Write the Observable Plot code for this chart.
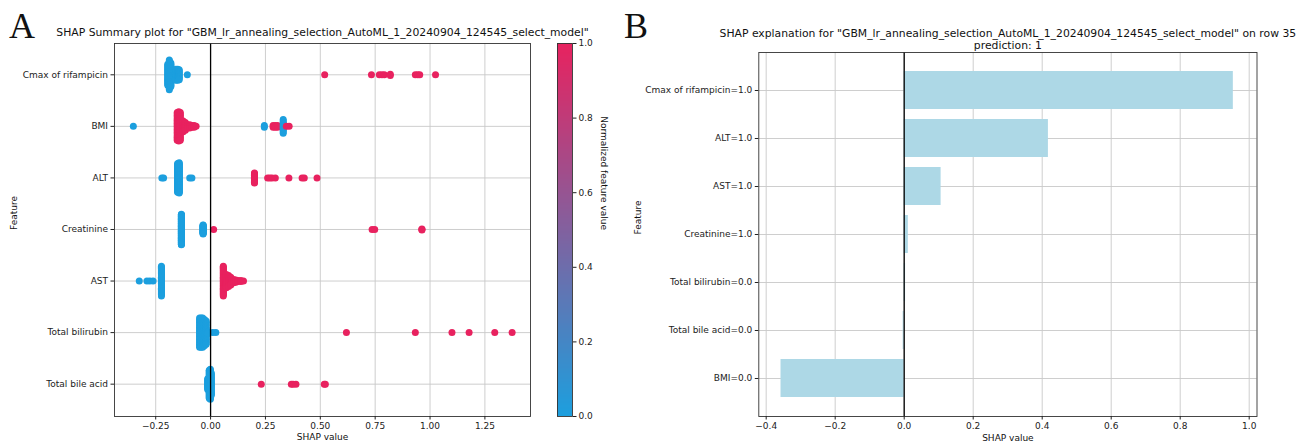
<!DOCTYPE html>
<html><head><meta charset="utf-8">
<script src="https://cdn.jsdelivr.net/npm/d3@7"></script>
<script src="https://cdn.jsdelivr.net/npm/@observablehq/plot@0.6"></script>
<style>
body{margin:0;background:#fff;font-family:"DejaVu Sans",sans-serif;}
#wrap{position:relative;width:1306px;height:446px;overflow:hidden;background:#fff}
.panel{position:absolute;top:0}
svg{overflow:visible}
</style></head><body>
<div id="wrap">
  <div class="panel" id="cbar" style="left:557px"></div>
  <div class="panel" id="left" style="left:0px"></div>
  <div class="panel" id="right" style="left:620px"></div>
  <svg class="panel" width="1306" height="60" style="left:0;pointer-events:none">
    <text x="9" y="38" font-family="Liberation Serif, DejaVu Serif, serif" font-size="36" fill="#111">A</text>
    <text x="624" y="38" font-family="Liberation Serif, DejaVu Serif, serif" font-size="36" fill="#111">B</text>
  </svg>
</div>
<script>
// ---------- Panel A data ----------
const features = ["Cmax of rifampicin","BMI","ALT","Creatinine","AST","Total bilirubin","Total bile acid"];
// groups: [SHAP value, normalized feature value, number of rows]
const cmaxGroups = [[-0.195,0,18],[-0.188,0,25],[-0.181,0,20],[-0.158,0,10],[-0.15,0,10],[-0.143,0,9],[-0.106,0,1],
  [0.52,1,1],[0.733,1,1],[0.769,1,1],[0.781,1,1],[0.792,1,1],[0.819,1,2],[0.933,1,1],[0.944,1,1],[0.953,1,1],[1.025,1,1]];
const bmiGroups = [[-0.352,0,1],[-0.152,1,19],[-0.145,1,20],[-0.138,1,19],[-0.125,1,8],[-0.115,1,6],[-0.105,1,3],[-0.095,1,3],[-0.085,1,2],[-0.075,1,2],[-0.066,1,1],
  [0.245,0,2],[0.285,1,2],[0.295,1,2],[0.305,1,2],[0.331,0,10],[0.345,1,1],[0.358,1,1]];
const altGroups = [[-0.222,0,1],[-0.214,0,1],[-0.15,0,38],[-0.143,0,40],[-0.095,0,1],[-0.085,0,1],
  [0.2,1,14],[0.26,1,1],[0.27,1,1],[0.28,1,1],[0.295,1,1],[0.357,1,1],[0.417,1,1],[0.427,1,1],[0.485,1,1]];
const creatinineGroups = [[-0.133,0,75],[-0.034,0,23],[0.014,1,1],[0.736,1,1],[0.748,1,1],[0.963,1,3]];
const astGroups = [[-0.325,0,1],[-0.29,0,1],[-0.277,0,1],[-0.262,0,1],[-0.224,0,28],
  [0.058,1,28],[0.072,1,13],[0.082,1,11],[0.092,1,8],[0.105,1,4],[0.115,1,3],[0.125,1,2],[0.138,1,2],[0.15,1,1]];
const bilirubinGroups = [[-0.05,0,20],[-0.043,0,20],[-0.036,0,20],[-0.028,0,18],[-0.02,0,16],[-0.012,0,2],[0.01,0,1],[0.024,0,1],
  [0.619,1,1],[0.933,1,1],[1.1,1,1],[1.178,1,1],[1.295,1,1],[1.374,1,1]];
const bileAcidGroups = [[-0.013,0,12],[-0.006,0,30],[-0.001,0,32],[0.003,0,24],
  [0.231,1,1],[0.368,1,1],[0.376,1,1],[0.389,1,1],[0.518,1,1],[0.523,1,1]];
const summaryXTicks = [-0.25,0,0.25,0.5,0.75,1,1.25];
const colorbarTicks = [0,0.2,0.4,0.6,0.8,1];

// ---------- Panel B data ----------
const explainLabels = ["Cmax of rifampicin=1.0","ALT=1.0","AST=1.0","Creatinine=1.0","Total bilirubin=0.0","Total bile acid=0.0","BMI=0.0"];
const explainValues = [0.954, 0.418, 0.107, 0.012, 0.004, -0.003, -0.357];
const explainXTicks = [-0.4,-0.2,0,0.2,0.4,0.6,0.8,1.0];

const titleA = 'SHAP Summary plot for "GBM_lr_annealing_selection_AutoML_1_20240904_124545_select_model"';
const titleB1 = 'SHAP explanation for "GBM_lr_annealing_selection_AutoML_1_20240904_124545_select_model" on row 35';
const titleB2 = 'prediction: 1';

const BLUE = "#1c9fde", RED = "#e8225f";
const colorScale = {type: "linear", domain: [0, 1], range: [BLUE, RED], interpolate: "rgb"};
const font = {fontFamily: "DejaVu Sans", fontSize: "9px", color: "#222", background: "transparent", overflow: "visible"};
const gridColor = "#c8c8c8";
const TITLE_SIZE = 10.8;

// density-scaled jitter (stack height proportional to count)
const JIT = 0.30;
function expand(groups, row) {
  const M = d3.max(groups, g => g[2]);
  const out = [];
  for (const [v, fv, c] of groups) {
    const h = JIT * c / M;
    for (let k = 0; k < c; k++) out.push({shap: v, value: fv, y: row + h * (-1 + (2 * k + 1) / c)});
  }
  return out;
}
const allGroups = [cmaxGroups, bmiGroups, altGroups, creatinineGroups, astGroups, bilirubinGroups, bileAcidGroups];
const points = allGroups.flatMap((g, i) => expand(g, i));

const left = Plot.plot({
  width: 557, height: 446, marginLeft: 114, marginRight: 27, marginTop: 43, marginBottom: 30,
  style: font,
  x: {domain: [-0.4378, 1.4578], label: null},
  y: {domain: [-0.607, 6.627], reverse: true, label: null},
  color: colorScale,
  marks: [
    Plot.gridX(summaryXTicks, {stroke: gridColor, strokeOpacity: 1, strokeWidth: 0.9}),
    Plot.gridY(d3.range(features.length), {stroke: gridColor, strokeOpacity: 1, strokeWidth: 0.9}),
    Plot.dot(points, {x: "shap", y: "y", fill: "value", r: 3.5, stroke: null}),
    Plot.ruleX([0], {stroke: "black", strokeWidth: 1.3}),
    Plot.frame({stroke: "#333", strokeWidth: 0.9}),
    Plot.axisX(summaryXTicks, {tickFormat: d3.format(".2f"), tickSize: 3.5, tickPadding: 2.5, label: null}),
    Plot.axisY(d3.range(features.length), {tickFormat: i => features[i], tickSize: 3.5, tickPadding: 3, label: null}),
    Plot.text([titleA], {text: d => d, frameAnchor: "top", lineAnchor: "middle", dy: -11, fontSize: TITLE_SIZE, fill: "#111"}),
    Plot.text(["SHAP value"], {text: d => d, frameAnchor: "bottom", lineAnchor: "middle", dy: 21, fill: "#111"}),
    Plot.text(["Feature"], {text: d => d, frameAnchor: "left", dx: -100, rotate: -90, fill: "#111"})
  ]
});
document.getElementById("left").appendChild(left);

const steps = d3.range(0, 1, 0.005);
const cbar = Plot.plot({
  width: 75, height: 446, marginLeft: 0, marginRight: 60, marginTop: 43, marginBottom: 30,
  style: font,
  x: {domain: [0, 1], axis: null},
  y: {domain: [0, 1], label: null},
  color: colorScale,
  marks: [
    Plot.rect(steps, {x1: 0, x2: 1, y1: d => d, y2: d => d + 0.0051, fill: d => d + 0.0025, shapeRendering: "crispEdges"}),
    Plot.frame({stroke: "#333", strokeWidth: 0.9}),
    Plot.axisY(colorbarTicks, {anchor: "right", tickFormat: d3.format(".1f"), tickSize: 3.5, tickPadding: 2.5, label: null}),
    Plot.text(["Normalized feature value"], {text: d => d, frameAnchor: "right", dx: 31, rotate: 90, fill: "#111"})
  ]
});
document.getElementById("cbar").appendChild(cbar);

const bars = explainLabels.map((l, i) => ({label: l, value: explainValues[i]}));
const right = Plot.plot({
  width: 686, height: 446, marginLeft: 138.3, marginRight: 49.5, marginTop: 52, marginBottom: 30,
  style: font,
  x: {domain: [-0.4214, 1.0226], label: null},
  y: {domain: explainLabels, paddingInner: 0.2, paddingOuter: 0.39, label: null},
  marks: [
    Plot.gridX(explainXTicks, {stroke: gridColor, strokeOpacity: 1, strokeWidth: 0.9}),
    Plot.ruleY(explainLabels, {y: d => d, stroke: gridColor, strokeWidth: 0.9}),
    Plot.barX(bars, {x: "value", y: "label", fill: "#add8e6"}),
    Plot.ruleX([0], {stroke: "black", strokeWidth: 1.3}),
    Plot.frame({stroke: "#333", strokeWidth: 0.9}),
    Plot.axisX(explainXTicks, {tickFormat: d3.format(".1f"), tickSize: 3.5, tickPadding: 2.5, label: null}),
    Plot.axisY(explainLabels, {tickSize: 3.5, tickPadding: 3, label: null}),
    Plot.text([titleB1], {text: d => d, frameAnchor: "top", lineAnchor: "middle", dy: -19, fontSize: TITLE_SIZE, fill: "#111"}),
    Plot.text([titleB2], {text: d => d, frameAnchor: "top", lineAnchor: "middle", dy: -7, fontSize: TITLE_SIZE, fill: "#111"}),
    Plot.text(["SHAP value"], {text: d => d, frameAnchor: "bottom", lineAnchor: "middle", dy: 22, fill: "#111"}),
    Plot.text(["Feature"], {text: d => d, frameAnchor: "left", dx: -121, rotate: -90, fill: "#111"})
  ]
});
document.getElementById("right").appendChild(right);
</script>
</body></html>
